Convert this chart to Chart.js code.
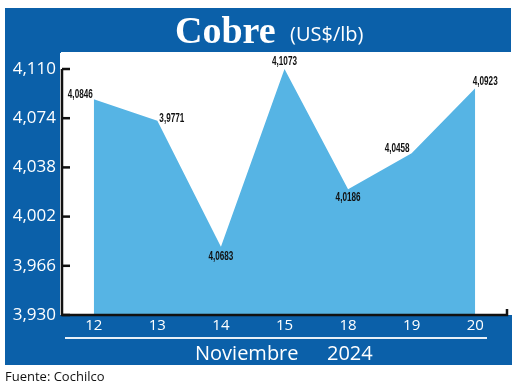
<!DOCTYPE html>
<html>
<head>
<meta charset="utf-8">
<script src="https://cdn.jsdelivr.net/npm/chart.js@4"></script>
<style>
  html, body { margin: 0; padding: 0; background: #fff; }
  #wrap { width: 520px; height: 387px; }
</style>
</head>
<body>
<div id="wrap"><canvas id="cobre" width="520" height="387"></canvas></div>
<script>
// data
const days = ["12", "13", "14", "15", "18", "19", "20"];
const prices = [4.0878, 4.0722, 3.980, 4.110, 4.022, 4.0483, 4.0959];
const printedLabels = ["4,0846", "3,9771", "4,0683", "4,1073", "4,0186", "4,0458", "4,0923"];
const yMin = 3.930;
const yMax = 4.110;
const yStep = 0.036;

// where each printed label sits around its point
const labelPlace = [
  { dx: -1, dy: -5, align: "right" },
  { dx: 2, dy: -2, align: "left" },
  { dx: 0, dy: 10, align: "center" },
  { dx: 0, dy: -7, align: "center" },
  { dx: 0, dy: 8, align: "center" },
  { dx: -2, dy: -5, align: "right" },
  { dx: 10, dy: -7, align: "center" }
];

const BLUE = "#0b60a9";

const frame = {
  id: "frame",
  beforeDraw(chart) {
    const ctx = chart.ctx;
    ctx.save();
    ctx.fillStyle = BLUE;
    ctx.fillRect(5, 8, 506, 44);
    ctx.fillRect(5, 8, 56, 357);
    ctx.fillRect(5, 315, 507, 50);
    ctx.fillStyle = "#fff";
    ctx.fillRect(60, 53, 452, 262);

    // title
    ctx.fillStyle = "#fff";
    ctx.textBaseline = "alphabetic";
    ctx.textAlign = "left";
    ctx.font = "bold 38px 'Liberation Serif'";
    ctx.fillText("Cobre", 175, 43);
    ctx.font = "20px 'Open Sans'";
    ctx.fillText("(US$/lb)", 290, 41);

    // month line + caption
    ctx.strokeStyle = "#e8f0f8";
    ctx.lineWidth = 2;
    ctx.beginPath();
    ctx.moveTo(65, 338);
    ctx.lineTo(487, 338);
    ctx.stroke();
    ctx.font = "20px 'Open Sans'";
    ctx.fillText("Noviembre", 195, 360);
    ctx.fillText("2024", 327, 360);

    ctx.fillStyle = "#111";
    ctx.font = "13px 'Open Sans'";
    ctx.fillText("Fuente: Cochilco", 5, 381);
    ctx.restore();
  },
  afterDraw(chart) {
    const ctx = chart.ctx;
    const y = chart.scales.y;
    const a = chart.chartArea;
    ctx.save();
    ctx.strokeStyle = "#111";
    ctx.lineWidth = 2.5;
    ctx.beginPath();
    ctx.moveTo(a.left, a.top);
    ctx.lineTo(a.left, a.bottom);
    ctx.lineTo(a.right, a.bottom);
    ctx.lineTo(a.right, a.bottom - 6);
    ctx.stroke();
    y.ticks.forEach(t => {
      const py = y.getPixelForValue(t.value);
      ctx.beginPath();
      ctx.moveTo(a.left, py);
      ctx.lineTo(a.left + 8, py);
      ctx.stroke();
    });

    // printed values
    const meta = chart.getDatasetMeta(0);
    ctx.fillStyle = "#111";
    ctx.font = "bold 12px 'Liberation Sans'";
    ctx.textBaseline = "middle";
    meta.data.forEach((pt, i) => {
      const p = labelPlace[i];
      ctx.save();
      ctx.translate(pt.x + p.dx, pt.y + p.dy);
      ctx.scale(0.68, 1);
      ctx.textAlign = p.align;
      ctx.fillText(printedLabels[i], 0, 0);
      ctx.restore();
    });
    ctx.restore();
  }
};

new Chart(document.getElementById("cobre"), {
  type: "line",
  data: {
    labels: days,
    datasets: [{
      data: prices,
      fill: "start",
      backgroundColor: "#56b4e4",
      borderWidth: 0,
      pointRadius: 0,
      tension: 0
    }]
  },
  options: {
    responsive: false,
    animation: false,
    layout: { padding: { left: 5, top: 69, right: 13, bottom: 0 } },
    plugins: { legend: { display: false }, tooltip: { enabled: false } },
    scales: {
      x: {
        offset: true,
        grid: { display: false, drawTicks: false },
        border: { display: false },
        ticks: { color: "#fff", font: { family: "Open Sans", size: 15 }, padding: 2 },
        afterFit: s => { s.height = 72; }
      },
      y: {
        min: yMin,
        max: yMax,
        grid: { display: false, drawTicks: false },
        border: { display: false },
        ticks: {
          stepSize: yStep,
          color: "#fff",
          padding: 6,
          font: { family: "Open Sans", size: 17 },
          callback: v => v.toFixed(3).replace(".", ",")
        },
        afterFit: s => { s.width = 57; }
      }
    }
  },
  plugins: [frame]
});
</script>
</body>
</html>
